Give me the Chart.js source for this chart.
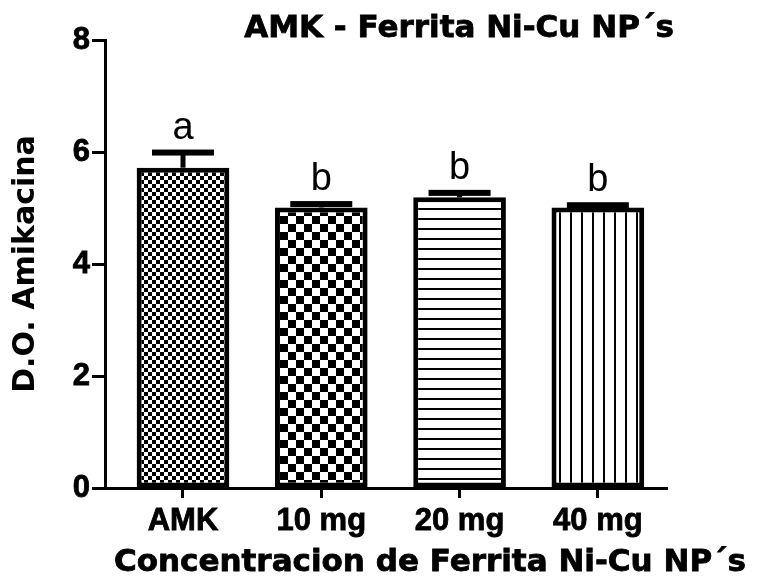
<!DOCTYPE html>
<html>
<head>
<meta charset="utf-8">
<script src="https://cdn.jsdelivr.net/npm/chart.js@4/dist/chart.umd.min.js"></script>
<style>
  html, body { margin: 0; padding: 0; background: #fff; overflow: hidden; }
</style>
</head>
<body>
<canvas id="doChart" width="769" height="577"></canvas>
<script>
const categories = ['AMK', '10 mg', '20 mg', '40 mg'];
const means = [5.72, 5.01, 5.19, 5.01];
const semErr = [0.27, 0.06, 0.08, 0.04];
const groupLetters = ['a', 'b', 'b', 'b'];
const yTicks = [0, 2, 4, 6, 8];

const FONT = '"DejaVu Sans", sans-serif';
const TICK_FONT = '"Liberation Sans", Arial, sans-serif';

// hatch fills for each bar
function makePattern(kind) {
  const c = document.createElement('canvas');
  const g = c.getContext('2d');
  if (kind === 'fineCheck') {
    c.width = 8; c.height = 8;
    g.fillStyle = '#fff'; g.fillRect(0, 0, 8, 8);
    g.fillStyle = '#000';
    g.fillRect(0, 0, 4, 4); g.fillRect(4, 4, 4, 4);
  } else if (kind === 'check') {
    c.width = 16; c.height = 16;
    g.fillStyle = '#fff'; g.fillRect(0, 0, 16, 16);
    g.fillStyle = '#000';
    g.fillRect(0, 0, 8, 8); g.fillRect(8, 8, 8, 8);
  } else if (kind === 'hLines') {
    c.width = 10; c.height = 10;
    g.fillStyle = '#fff'; g.fillRect(0, 0, 10, 10);
    g.fillStyle = '#000'; g.fillRect(0, 8, 10, 2);
  } else {
    c.width = 11; c.height = 11;
    g.fillStyle = '#fff'; g.fillRect(0, 0, 11, 11);
    g.fillStyle = '#000'; g.fillRect(9, 0, 2, 11);
  }
  return g.createPattern(c, 'repeat');
}

const fills = [makePattern('fineCheck'), makePattern('check'), makePattern('hLines'), makePattern('vLines')];

// error bars (upper only) and group letters
const errorBars = {
  id: 'errorBars',
  afterDatasetsDraw(chart) {
    const ctx = chart.ctx;
    const y = chart.scales.y;
    const meta = chart.getDatasetMeta(0);
    ctx.save();
    ctx.fillStyle = '#000';
    meta.data.forEach((bar, i) => {
      const x = bar.x;
      const yMean = y.getPixelForValue(means[i]);
      const yTop = y.getPixelForValue(means[i] + semErr[i]);
      ctx.fillRect(x - 2.5, yTop, 5, yMean - yTop);
      ctx.fillRect(x - 31, yTop - 3, 62, 6);
      ctx.font = '38px ' + TICK_FONT;
      ctx.textAlign = 'center';
      ctx.textBaseline = 'alphabetic';
      ctx.fillText(groupLetters[i], x, yTop - 14);
    });
    ctx.restore();
  }
};

// chart title and x axis title
const titles = {
  id: 'titles',
  afterDraw(chart) {
    const ctx = chart.ctx;
    ctx.save();
    ctx.fillStyle = '#000';
    ctx.strokeStyle = '#000';
    ctx.lineWidth = 0.8;
    ctx.font = 'bold 31px ' + FONT;
    ctx.textAlign = 'center';
    ctx.textBaseline = 'alphabetic';
    [['AMK - Ferrita Ni-Cu NP\u00b4s', 459, 37], ['Concentracion de Ferrita Ni-Cu NP\u00b4s', 430, 571]].forEach(([t, x, y]) => {
      ctx.fillText(t, x, y);
      ctx.strokeText(t, x, y);
    });
    ctx.restore();
  }
};

new Chart(document.getElementById('doChart'), {
  type: 'bar',
  data: {
    datasets: [{
      data: means.map((v, i) => ({ x: i, y: v })),
      backgroundColor: fills,
      borderColor: '#000',
      borderWidth: 5,
      borderSkipped: false,
      barPercentage: 0.67,
      categoryPercentage: 1
    }]
  },
  options: {
    responsive: false,
    animation: false,
    layout: { padding: { top: 40, right: 102, left: 0, bottom: 0 } },
    plugins: { legend: { display: false }, tooltip: { enabled: false }, title: { display: false } },
    scales: {
      x: {
        type: 'linear',
        offset: false,
        min: -0.564,
        max: 3.5,
        afterFit(scale) { scale.height = 89; },
        afterBuildTicks(scale) { scale.ticks = categories.map((c, i) => ({ value: i })); },
        border: { color: '#000', width: 3 },
        grid: { offset: false, drawOnChartArea: false, tickLength: 10, tickWidth: 3, tickColor: '#000' },
        ticks: {
          color: '#000',
          padding: 5,
          maxRotation: 0,
          autoSkip: false,
          textStrokeColor: '#000',
          textStrokeWidth: 0.8,
          font: { family: TICK_FONT, size: 31, weight: 'bold' },
          callback: v => categories[v]
        }
      },
      y: {
        min: 0,
        max: 8,
        afterFit(scale) { scale.width = 105; },
        afterBuildTicks(scale) { scale.ticks = yTicks.map(v => ({ value: v })); },
        border: { color: '#000', width: 3 },
        grid: { drawOnChartArea: false, tickLength: 13, tickWidth: 3, tickColor: '#000' },
        ticks: {
          color: '#000',
          padding: 2,
          textStrokeColor: '#000',
          textStrokeWidth: 0.8,
          font: { family: TICK_FONT, size: 31, weight: 'bold' }
        },
        title: {
          display: true,
          text: 'D.O. Amikacina',
          color: '#000',
          padding: { top: 8, bottom: 0 },
          font: { family: FONT, size: 30, weight: 'bold' }
        }
      }
    }
  },
  plugins: [errorBars, titles]
});
</script>
</body>
</html>
